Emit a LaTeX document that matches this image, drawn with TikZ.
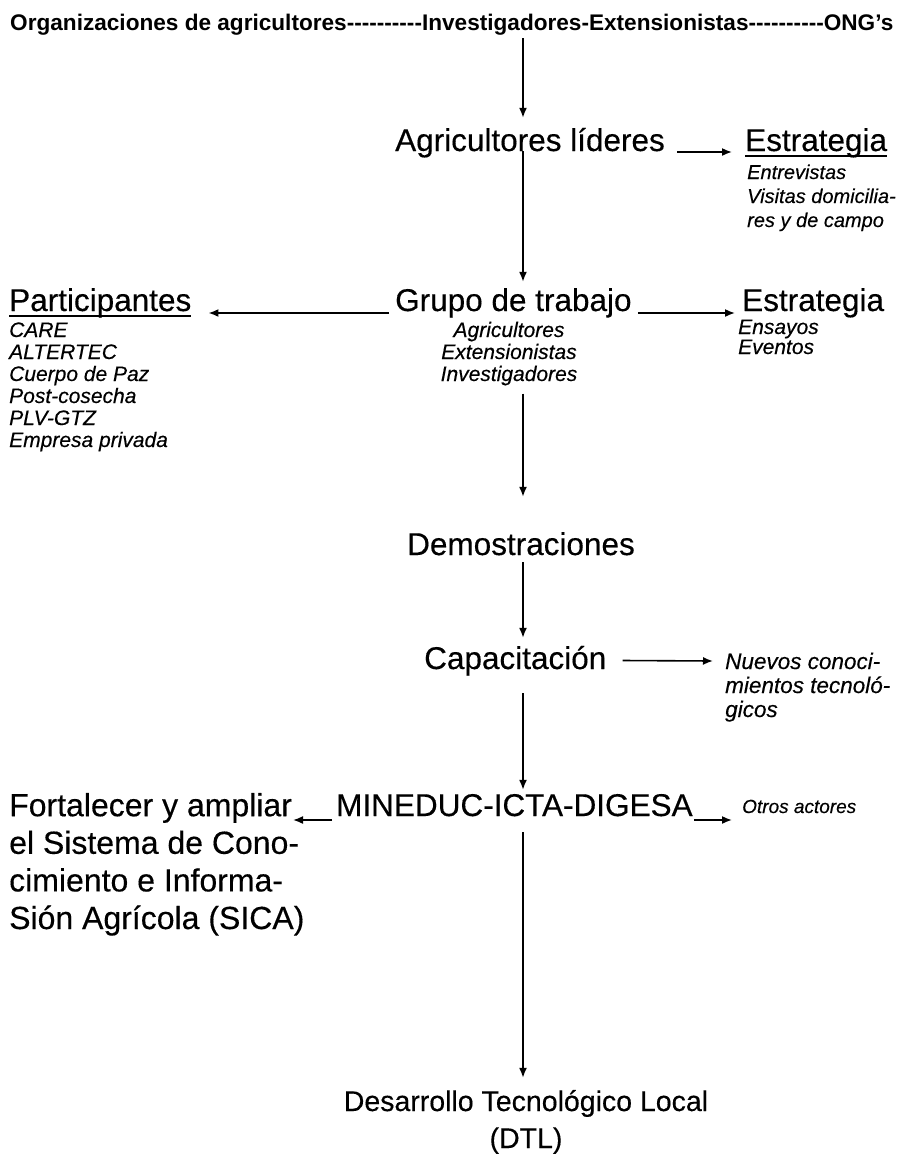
\documentclass[tikz,border=0pt]{standalone}
\usepackage{fontspec}
\setmainfont{Liberation Sans}
\newfontfamily\heavy[FakeBold=0.35]{Liberation Sans}
\usetikzlibrary{arrows.meta,calc}
\newcommand\hy{\mbox{-}}
\begin{document}
\begin{tikzpicture}[x=1pt,y=-1pt,
  big/.style={font=\heavy\fontsize{31.5}{37.5}\selectfont, inner sep=0pt, text height=24pt, text depth=7pt},
  small/.style={font=\heavy\fontsize{21}{22}\selectfont\itshape, inner sep=0pt},
  arr/.style={-{Latex[length=10pt,width=8pt]}, line width=1.6pt},
  uline/.style={line width=1.8pt},
  ]
\useasboundingbox (0,0) rectangle (898,1159);
\coordinate (spine) at (523,0);

% title
\node[font=\bfseries\fontsize{22.6}{26}\selectfont, inner sep=0pt, anchor=base west, text height=16pt, text depth=5pt] (title) at (10,30)
  {Organizaciones de agricultores\hy\hy\hy\hy\hy\hy\hy\hy\hy\hy Investigadores-Extensionistas\hy\hy\hy\hy\hy\hy\hy\hy\hy\hy ONG's};

% level 1
\node[big, anchor=base west] (lid) at (395,151) {Agricultores líderes};
\node[big, anchor=base west] (est1) at (745,151) {Estrategia};
\node[small, font=\heavy\fontsize{20}{24}\selectfont\itshape, anchor=base west, align=left] (est1l) at (747,227) {Entrevistas\\Visitas domicilia-\\res y de campo};

% level 2
\node[big, anchor=base west] (grupo) at (395,311) {Grupo de trabajo};
\node[big, anchor=base west] (part) at (9,311) {Participantes};
\node[big, anchor=base west] (est2) at (742,311) {Estrategia};
\node[small, anchor=base, align=center] (gsub) at (509,381) {Agricultores\\Extensionistas\\Investigadores};
\node[small, anchor=base west, align=left] (partl) at (9,447)
  {CARE\\ALTERTEC\\Cuerpo de Paz\\Post-cosecha\\PLV-GTZ\\Empresa privada};
\node[small, font=\heavy\fontsize{21}{20}\selectfont\itshape, anchor=base west, align=left] (est2l) at (738,354) {Ensayos\\Eventos};

% level 3
\node[big, anchor=base] (demo) at (521,555) {Demostraciones};
\node[big, anchor=base west] (cap) at (424,669) {Capacitación};
\node[small, font=\heavy\fontsize{22.5}{24}\selectfont\itshape, anchor=base west, align=left] (nuevo) at (725,717) {Nuevos conoci-\\mientos tecnoló-\\gicos};

% level 4
\node[big, anchor=base west] (min) at (336,816) {MINEDUC-ICTA-DIGESA};
\node[font=\heavy\fontsize{32}{37.6}\selectfont, inner sep=0pt, anchor=base west, align=left] (fort) at (9,929) {Fortalecer y ampliar\\el Sistema de Cono-\\cimiento e Informa-\\Sión Agrícola (SICA)};
\node[font=\heavy\fontsize{19}{20}\selectfont\itshape, inner sep=0pt, anchor=base west] (otros) at (742,813) {Otros actores};

% bottom
\node[font=\heavy\fontsize{28.5}{37}\selectfont, inner sep=0pt, anchor=base, align=center] (des) at (526,1148) {Desarrollo Tecnológico Local\\(DTL)};

% underlines
\draw[uline] ($(est1.base west)+(0,5)$) -- ($(est1.base east)+(0,5)$);
\draw[uline] ($(part.base west)+(0,5)$) -- ($(part.base east)+(0,5)$);

% connectors
\draw[arr, shorten <=3pt, shorten >=9pt] (title.south -| spine) -- (lid.north -| spine);
\draw[arr, shorten >=5pt] (lid.base -| spine) -- (grupo.north -| spine);
\draw[arr, shorten <=8pt, shorten >=34pt] (gsub.south -| spine) -- (demo.north -| spine);
\draw[arr, shorten >=7pt] (demo.south -| spine) -- (cap.north -| spine);
\draw[arr, shorten <=17pt, shorten >=2pt] (cap.south -| spine) -- (min.north -| spine);
\draw[arr, shorten <=9pt, shorten >=12pt] (min.south -| spine) -- (des.north -| spine);

\draw[arr] ($(lid.base east)+(12,1)$) -- ($(est1.base west)+(-13,1)$);
\draw[arr] ($(grupo.base west)+(-6,2)$) -- ($(part.base east)+(17,2)$);
\draw[arr] ($(grupo.base east)+(6,2)$) -- ($(est2.base west)+(-7,2)$);
\draw[arr] ($(cap.east)+(16,0)$) -- ($(nuevo.base west)+(-12,-56)$);
\draw[arr] ($(min.base west)+(-4,4)$) -- ($(fort.base west)+(284,-109)$);
\draw[arr] ($(min.base east)+(1,4)$) -- ($(otros.base west)+(-10,7)$);
\end{tikzpicture}
\end{document}
